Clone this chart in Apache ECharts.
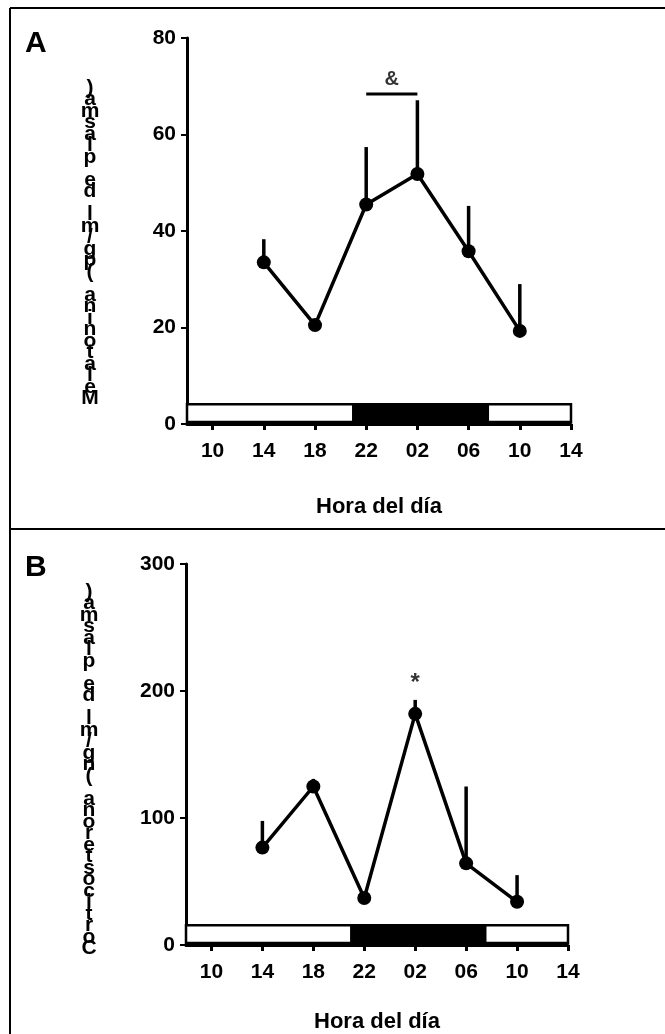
<!DOCTYPE html>
<html>
<head>
<meta charset="utf-8">
<script src="https://cdn.jsdelivr.net/npm/echarts@6/dist/echarts.min.js"></script>
<style>
    html, body { margin: 0; padding: 0; background: #fff; }
    #chart { width: 665px; height: 1034px; }
</style>
</head>
<body>
<div id="chart"></div>
<script>
// horas del muestreo (horas corridas: 26 = 02 h, 30 = 06 h, 34 = 10 h)
var hours = [14, 18, 22, 26, 30, 34];
var hourTicks = [10, 14, 18, 22, 26, 30, 34, 38];

// panel A: melatonina (pg/ml de plasma), media y error (solo hacia arriba)
var melatonina = [33.5, 20.5, 45.5, 51.8, 35.8, 19.3];
var melatoninaErr = [4.8, 0.8, 11.9, 15.3, 9.4, 9.7];

// panel B: corticosterona (ng/ml de plasma)
var corticosterona = [76.7, 124.8, 37, 182, 64.3, 34];
var corticosteronaErr = [21, 6, 2, 11, 60.5, 21];

// fotoperiodo: [inicio, fin, oscuridad]
var photoperiod = [[8, 21, 0], [21, 31.5, 1], [31.5, 38, 0]];
var bandA = [0.4, 4.1];
var bandB = [1.5, 15.5];

// marcas de significancia
var markA = { from: 22, to: 26, y: 68.4, text: '&', textY: 71.3 };
var markB = { x: 26, text: '*', y: 206 };

var labelA = 'Melatonina (pg/ml de plasma)';
var labelB = 'Corticosterona (ng/ml de plasma)';

var FONT = 'Liberation Sans, Arial, sans-serif';

function fmtHour(v) {
    var h = v % 24;
    return (h < 10 ? '0' : '') + h;
}

function stacked(s) {
    return s.split('').reverse().join('\n');
}

function xAxisFor(idx, gap) {
    return {
        type: 'value', gridIndex: idx, min: 8, max: 38,
        splitLine: { show: false },
        axisLine: { lineStyle: { color: '#000', width: 3 } },
        axisTick: { customValues: hourTicks, length: 6, lineStyle: { color: '#000', width: 3 } },
        axisLabel: {
            customValues: hourTicks, formatter: fmtHour, margin: 17,
            color: '#000', fontSize: 21, fontWeight: 'bold', fontFamily: FONT
        },
        name: 'Hora del día', nameLocation: 'middle', nameGap: gap,
        nameTextStyle: { color: '#000', fontSize: 22, fontWeight: 'bold', fontFamily: FONT }
    };
}

function yAxisFor(idx, max, interval) {
    return {
        type: 'value', gridIndex: idx, min: 0, max: max, interval: interval,
        splitLine: { show: false },
        axisLine: { show: true, lineStyle: { color: '#000', width: 3 } },
        axisTick: { show: true, length: 6, lineStyle: { color: '#000', width: 2 } },
        axisLabel: { margin: 11, color: '#000', fontSize: 21, fontWeight: 'bold', fontFamily: FONT }
    };
}

function lineSeries(idx, values) {
    return {
        type: 'line', xAxisIndex: idx, yAxisIndex: idx,
        data: hours.map(function (h, i) { return [h, values[i]]; }),
        symbol: 'circle', symbolSize: 14,
        itemStyle: { color: '#000' },
        lineStyle: { color: '#000', width: 3.5 },
        z: 5
    };
}

function errSeries(idx, values, errs) {
    return {
        type: 'custom', xAxisIndex: idx, yAxisIndex: idx,
        data: hours.map(function (h, i) { return [h, values[i], errs[i]]; }),
        encode: { x: 0, y: 1 },
        renderItem: function (params, api) {
            var x = api.value(0), y = api.value(1), e = api.value(2);
            var p0 = api.coord([x, y]);
            var p1 = api.coord([x, y + e]);
            return {
                type: 'line',
                shape: { x1: p0[0], y1: p0[1], x2: p1[0], y2: p1[1] },
                style: { stroke: '#000', lineWidth: 3.5 }
            };
        },
        z: 4
    };
}

function bandSeries(idx, band) {
    return {
        type: 'custom', xAxisIndex: idx, yAxisIndex: idx,
        data: photoperiod.map(function (p) { return [p[0], p[1], p[2], band[0], band[1]]; }),
        encode: { x: [0, 1], y: [3, 4] },
        renderItem: function (params, api) {
            var a = api.coord([api.value(0), api.value(4)]);
            var b = api.coord([api.value(1), api.value(3)]);
            return {
                type: 'rect',
                shape: { x: a[0], y: a[1], width: b[0] - a[0], height: b[1] - a[1] },
                style: { fill: api.value(2) ? '#000' : '#fff', stroke: '#000', lineWidth: 2.5 }
            };
        },
        z: 3
    };
}

var chart = echarts.init(document.getElementById('chart'));

var option = {
    backgroundColor: '#fff',
    animation: false,
    grid: [
        { left: 187, top: 38, width: 384, height: 386 },
        { left: 186, top: 564, width: 382, height: 386 }
    ],
    xAxis: [xAxisFor(0, 72), xAxisFor(1, 66)],
    yAxis: [yAxisFor(0, 80, 20), yAxisFor(1, 300, 100)],
    graphic: [
        { type: 'line', shape: { x1: 10, y1: 8, x2: 10, y2: 1034 }, style: { stroke: '#000', lineWidth: 2 } },
        { type: 'line', shape: { x1: 10, y1: 8, x2: 665, y2: 8 }, style: { stroke: '#000', lineWidth: 2 } },
        { type: 'line', shape: { x1: 10, y1: 529, x2: 665, y2: 529 }, style: { stroke: '#000', lineWidth: 2 } },
        { type: 'text', left: 25, top: 29, style: { text: 'A', font: 'bold 30px ' + FONT, fill: '#000' } },
        { type: 'text', left: 25, top: 553, style: { text: 'B', font: 'bold 30px ' + FONT, fill: '#000' } },
        {
            type: 'text', x: 90, y: 243,
            style: {
                text: stacked(labelA), font: 'bold 21px ' + FONT, fill: '#000',
                lineHeight: 11.5, align: 'center', verticalAlign: 'middle'
            }
        },
        {
            type: 'text', x: 89, y: 770,
            style: {
                text: stacked(labelB), font: 'bold 21px ' + FONT, fill: '#000',
                lineHeight: 11.5, align: 'center', verticalAlign: 'middle'
            }
        }
    ],
    series: [
        bandSeries(0, bandA),
        errSeries(0, melatonina, melatoninaErr),
        lineSeries(0, melatonina),
        {
            type: 'line', xAxisIndex: 0, yAxisIndex: 0,
            data: [[markA.from, markA.y], [markA.to, markA.y]],
            symbol: 'none', lineStyle: { color: '#000', width: 3 }
        },
        {
            type: 'scatter', xAxisIndex: 0, yAxisIndex: 0,
            data: [[(markA.from + markA.to) / 2, markA.textY]],
            symbolSize: 0,
            label: { show: true, position: 'inside', formatter: markA.text, color: '#000', fontSize: 20, fontWeight: 'bold', fontFamily: FONT }
        },
        bandSeries(1, bandB),
        errSeries(1, corticosterona, corticosteronaErr),
        lineSeries(1, corticosterona),
        {
            type: 'scatter', xAxisIndex: 1, yAxisIndex: 1,
            data: [[markB.x, markB.y]],
            symbolSize: 0,
            label: { show: true, position: 'inside', formatter: markB.text, color: '#000', fontSize: 24, fontWeight: 'bold', fontFamily: FONT }
        }
    ]
};

chart.setOption(option);
</script>
</body>
</html>
